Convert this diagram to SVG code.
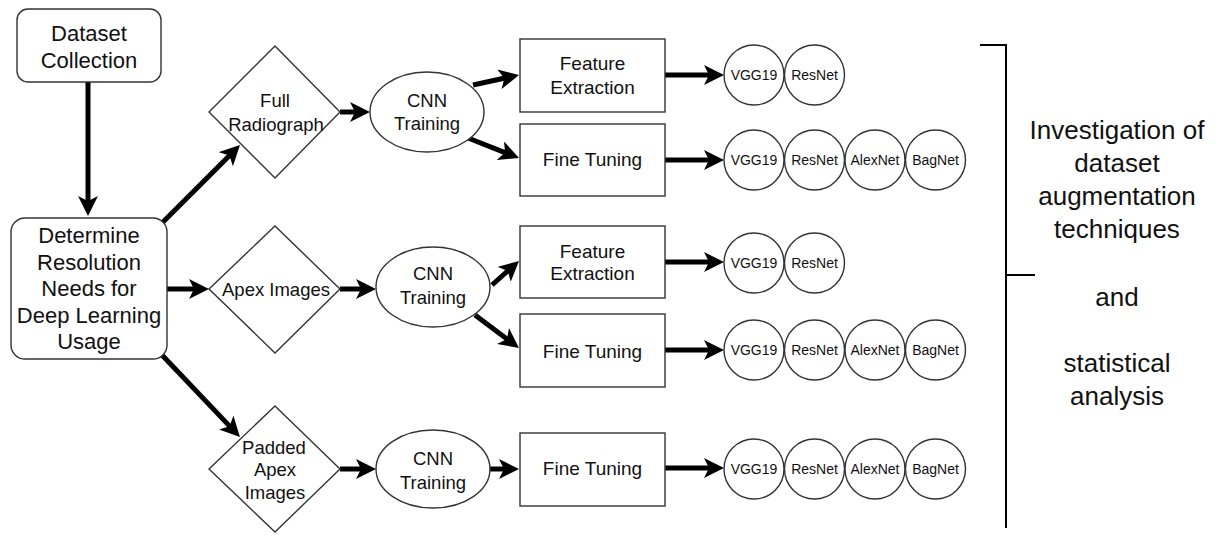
<svg xmlns="http://www.w3.org/2000/svg" width="1223" height="536" viewBox="0 0 1223 536">
  <defs>
    <marker id="arrow" markerUnits="userSpaceOnUse" markerWidth="20" markerHeight="20" viewBox="0 0 20 20" refX="7" refY="10" orient="auto">
      <path d="M0,0 L20,10 L0,20 L5,10 z" fill="#000"/>
    </marker>
  </defs>
  <style>
    text { font-family: "Liberation Sans", Arial, sans-serif; fill: #111; text-anchor: middle; }
    .shape { fill: #fff; stroke: #333; stroke-width: 1.4; }
    .big { font-size: 22px; }
    .mid { font-size: 19px; }
    .sm { font-size: 18.5px; }
    .net { font-size: 14px; }
    .side { font-size: 26px; }
    .conn { stroke: #000; stroke-width: 5; fill: none; marker-end: url(#arrow); }
    .bracket { stroke: #000; stroke-width: 2; fill: none; }
  </style>
  <rect width="1223" height="536" fill="#fff"/>

  <!-- connectors -->
  <g id="connectors">
    <line class="conn" x1="88" y1="82" x2="88" y2="203"/>
    <line class="conn" x1="162" y1="223" x2="230.8" y2="154.2"/>
    <line class="conn" x1="167" y1="289" x2="196" y2="289"/>
    <line class="conn" x1="162" y1="355" x2="231" y2="427.6"/>
    <line class="conn" x1="340" y1="112" x2="357" y2="112"/>
    <line class="conn" x1="340" y1="289" x2="363" y2="289"/>
    <line class="conn" x1="340" y1="469" x2="363" y2="469"/>
    <line class="conn" x1="473" y1="85" x2="506.3" y2="77.8"/>
    <line class="conn" x1="468" y1="138" x2="506.9" y2="153.3"/>
    <line class="conn" x1="492" y1="285" x2="509.3" y2="269.6"/>
    <line class="conn" x1="475" y1="315" x2="508.6" y2="340.2"/>
    <line class="conn" x1="490" y1="469" x2="506" y2="469"/>
    <line class="conn" x1="665" y1="75" x2="711" y2="75"/>
    <line class="conn" x1="665" y1="160" x2="711" y2="160"/>
    <line class="conn" x1="665" y1="262" x2="711" y2="262"/>
    <line class="conn" x1="665" y1="350" x2="711" y2="350"/>
    <line class="conn" x1="665" y1="468" x2="711" y2="468"/>
  </g>

  <!-- start -->
  <g id="dataset-collection">
    <rect class="shape" x="17" y="9" width="144" height="73" rx="11"/>
    <text class="big" x="89" y="41">Dataset</text>
    <text class="big" x="89" y="68">Collection</text>
  </g>

  <g id="determine-resolution">
    <rect class="shape" x="11" y="218" width="156" height="141" rx="14"/>
    <text class="big" x="89" y="243">Determine</text>
    <text class="big" x="89" y="270">Resolution</text>
    <text class="big" x="89" y="296">Needs for</text>
    <text class="big" x="89" y="323">Deep Learning</text>
    <text class="big" x="89" y="349">Usage</text>
  </g>

  <!-- image variants -->
  <g id="full-radiograph">
    <polygon class="shape" points="275,46 340,112 275,178 209,112"/>
    <text class="sm" x="275" y="106.5">Full</text>
    <text class="sm" x="276" y="131">Radiograph</text>
  </g>

  <g id="apex-images">
    <polygon class="shape" points="275,226 340,289 275,353 209,289"/>
    <text class="sm" x="276" y="295.5">Apex Images</text>
  </g>

  <g id="padded-apex-images">
    <polygon class="shape" points="275,406 340,469 275,532 209,469"/>
    <text class="sm" x="274" y="453.5">Padded</text>
    <text class="sm" x="275" y="476">Apex</text>
    <text class="sm" x="275" y="498.5">Images</text>
  </g>

  <!-- CNN training -->
  <g id="cnn-training-1">
    <ellipse class="shape" cx="427" cy="112" rx="57" ry="40"/>
    <text class="sm" x="427" y="106.5">CNN</text>
    <text class="sm" x="427" y="129.5">Training</text>
  </g>
  <g id="cnn-training-2">
    <ellipse class="shape" cx="433" cy="287" rx="57" ry="40"/>
    <text class="sm" x="433" y="279.5">CNN</text>
    <text class="sm" x="433" y="303.5">Training</text>
  </g>
  <g id="cnn-training-3">
    <ellipse class="shape" cx="433" cy="469" rx="57" ry="39"/>
    <text class="sm" x="433" y="464.5">CNN</text>
    <text class="sm" x="433" y="488.5">Training</text>
  </g>

  <!-- training modes -->
  <g id="feature-extraction-1">
    <rect class="shape" x="520" y="39" width="145" height="73"/>
    <text class="mid" x="592.5" y="70">Feature</text>
    <text class="mid" x="592.5" y="94">Extraction</text>
  </g>
  <g id="fine-tuning-1">
    <rect class="shape" x="520" y="124" width="145" height="72"/>
    <text class="mid" x="592.5" y="166">Fine Tuning</text>
  </g>
  <g id="feature-extraction-2">
    <rect class="shape" x="520" y="226" width="145" height="72"/>
    <text class="mid" x="592.5" y="257.5">Feature</text>
    <text class="mid" x="592.5" y="280">Extraction</text>
  </g>
  <g id="fine-tuning-2">
    <rect class="shape" x="520" y="314" width="145" height="73"/>
    <text class="mid" x="592.5" y="357.5">Fine Tuning</text>
  </g>
  <g id="fine-tuning-3">
    <rect class="shape" x="520" y="433" width="145" height="73"/>
    <text class="mid" x="592.5" y="475">Fine Tuning</text>
  </g>

  <!-- network sets -->
  <g id="nets-fe-1">
    <circle class="shape" cx="754" cy="75" r="30"/>
    <circle class="shape" cx="814.5" cy="75" r="30"/>
    <text class="net" x="754" y="80">VGG19</text>
    <text class="net" x="814.5" y="80">ResNet</text>
  </g>
  <g id="nets-ft-1">
    <circle class="shape" cx="754" cy="160" r="30"/>
    <circle class="shape" cx="814.5" cy="160" r="30"/>
    <circle class="shape" cx="875" cy="160" r="30"/>
    <circle class="shape" cx="935.5" cy="160" r="30"/>
    <text class="net" x="754" y="165">VGG19</text>
    <text class="net" x="814.5" y="165">ResNet</text>
    <text class="net" x="875" y="165">AlexNet</text>
    <text class="net" x="935.5" y="165">BagNet</text>
  </g>
  <g id="nets-fe-2">
    <circle class="shape" cx="754" cy="263" r="30"/>
    <circle class="shape" cx="814.5" cy="263" r="30"/>
    <text class="net" x="754" y="268">VGG19</text>
    <text class="net" x="814.5" y="268">ResNet</text>
  </g>
  <g id="nets-ft-2">
    <circle class="shape" cx="754" cy="350" r="30"/>
    <circle class="shape" cx="814.5" cy="350" r="30"/>
    <circle class="shape" cx="875" cy="350" r="30"/>
    <circle class="shape" cx="935.5" cy="350" r="30"/>
    <text class="net" x="754" y="355">VGG19</text>
    <text class="net" x="814.5" y="355">ResNet</text>
    <text class="net" x="875" y="355">AlexNet</text>
    <text class="net" x="935.5" y="355">BagNet</text>
  </g>
  <g id="nets-ft-3">
    <circle class="shape" cx="754" cy="469" r="30"/>
    <circle class="shape" cx="814.5" cy="469" r="30"/>
    <circle class="shape" cx="875" cy="469" r="30"/>
    <circle class="shape" cx="935.5" cy="469" r="30"/>
    <text class="net" x="754" y="474">VGG19</text>
    <text class="net" x="814.5" y="474">ResNet</text>
    <text class="net" x="875" y="474">AlexNet</text>
    <text class="net" x="935.5" y="474">BagNet</text>
  </g>

  <!-- summary bracket -->
  <g id="summary">
    <path class="bracket" d="M980,45 H1006 V528 M1006,275 H1035"/>
    <text class="side" x="1117" y="139">Investigation of</text>
    <text class="side" x="1117" y="172">dataset</text>
    <text class="side" x="1117" y="205">augmentation</text>
    <text class="side" x="1117" y="238">techniques</text>
    <text class="side" x="1117" y="306">and</text>
    <text class="side" x="1117" y="372">statistical</text>
    <text class="side" x="1117" y="405">analysis</text>
  </g>
</svg>
